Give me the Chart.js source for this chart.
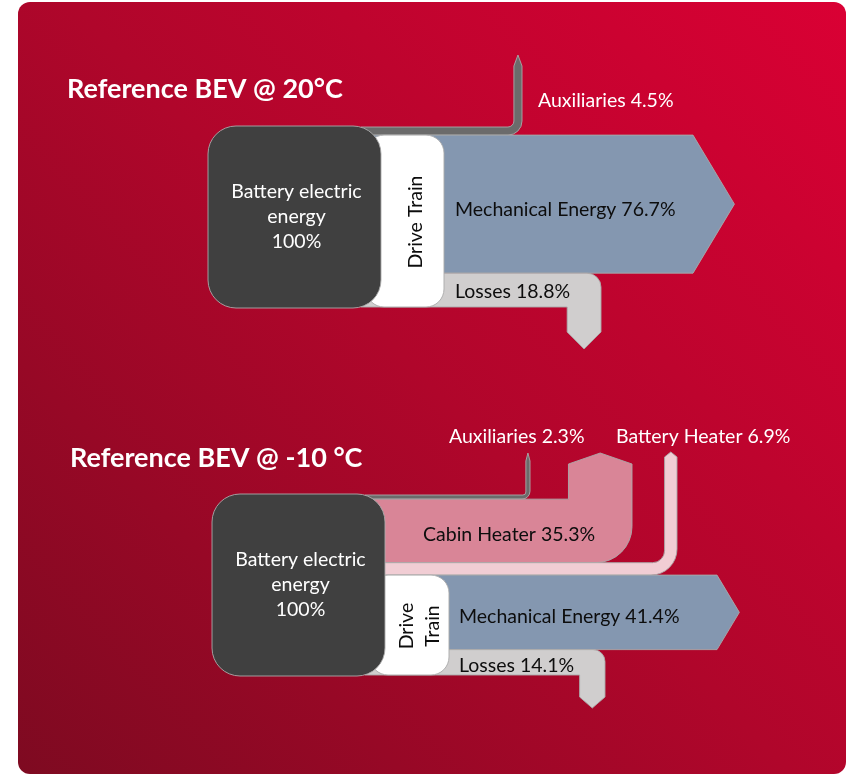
<!DOCTYPE html>
<html>
<head>
<meta charset="utf-8">
<script src="https://cdn.jsdelivr.net/npm/chart.js@4"></script>
<style>
  html, body { margin: 0; padding: 0; background: #fff; }
  canvas { display: block; }
</style>
</head>
<body>
<canvas id="grafico" width="850" height="776"></canvas>
<script>
// titulos dos dois casos
const titles = ['Reference BEV @ 20°C', 'Reference BEV @ -10 °C'];
const sourceLines = ['Battery electric', 'energy', '100%'];
const sourceValue = 100;

// caso 20°C (% da energia da bateria)
const warmFlows = ['Auxiliaries', 'Mechanical Energy', 'Losses'];
const warmValues = [4.5, 76.7, 18.8];

// caso -10°C
const coldFlows = ['Auxiliaries', 'Cabin Heater', 'Battery Heater', 'Mechanical Energy', 'Losses'];
const coldValues = [2.3, 35.3, 6.9, 41.4, 14.1];

// escala: pixels por ponto percentual
const PX_PER_PCT = 1.8;
const FONT = 'Lato, "Open Sans", sans-serif';

const flowColors = {
    'Auxiliaries': '#6b6b6b',
    'Cabin Heater': '#d98597',
    'Battery Heater': '#f1cdd4',
    'Mechanical Energy': '#8497b0',
    'Losses': '#d0cece'
};

// posicoes de cada diagrama (px)
const layouts = [
    {
        flows: warmFlows, values: warmValues, top: 127,
        boxLeft: 208, boxRight: 381, dtRight: 444,
        title: { x: 67, y: 89 }, driveText: ['Drive Train'],
        routes: {
            'Auxiliaries': { dir: 'up', xR: 522, yEnd: 66, tip: 11, rOut: 14, rIn: 6, label: { x: 538, y: 101, color: '#fff' } },
            'Mechanical Energy': { dir: 'right', xBody: 693, label: { x: 455, dy: 6 } },
            'Losses': { dir: 'down', xR: 601, yEnd: 332, tip: 17, rOut: 14, label: { x: 455, dy: 2 } }
        }
    },
    {
        flows: coldFlows, values: coldValues, top: 495,
        boxLeft: 212, boxRight: 385, dtRight: 449,
        title: { x: 70, y: 458 }, driveText: ['Drive', 'Train'],
        routes: {
            'Auxiliaries': { dir: 'up', xR: 530, yEnd: 461, tip: 8, rOut: 8, rIn: 3, label: { x: 449, y: 437, color: '#fff' } },
            'Cabin Heater': { dir: 'up', xR: 632, yEnd: 464, tip: 11, rOut: 36, rIn: 0, label: { x: 423, dy: 4 } },
            'Battery Heater': { dir: 'up', xR: 677, yEnd: 457, tip: 5, rOut: 26, rIn: 12, label: { x: 616, y: 437, color: '#fff' } },
            'Mechanical Energy': { dir: 'right', xBody: 717, label: { x: 459, dy: 4 } },
            'Losses': { dir: 'down', xR: 605, yEnd: 697, tip: 11, rOut: 12, label: { x: 459, dy: 3 } }
        }
    }
];

function upFlow(ctx, x0, y0, y1, r) {
    const w = y1 - y0, xL = r.xR - w;
    ctx.moveTo(x0, y0);
    if (r.rIn) {
        ctx.lineTo(xL - r.rIn, y0);
        ctx.arcTo(xL, y0, xL, y0 - r.rIn, r.rIn);
    } else {
        ctx.lineTo(xL, y0);
    }
    ctx.lineTo(xL, r.yEnd);
    ctx.lineTo(xL + w / 2, r.yEnd - r.tip);
    ctx.lineTo(r.xR, r.yEnd);
    ctx.lineTo(r.xR, y1 - r.rOut);
    ctx.arcTo(r.xR, y1, r.xR - r.rOut, y1, r.rOut);
    ctx.lineTo(x0, y1);
    ctx.closePath();
}

function downFlow(ctx, x0, y0, y1, r) {
    const w = y1 - y0, xL = r.xR - w;
    ctx.moveTo(x0, y0);
    ctx.lineTo(r.xR - r.rOut, y0);
    ctx.arcTo(r.xR, y0, r.xR, y0 + r.rOut, r.rOut);
    ctx.lineTo(r.xR, r.yEnd);
    ctx.lineTo(r.xR - w / 2, r.yEnd + r.tip);
    ctx.lineTo(xL, r.yEnd);
    ctx.lineTo(xL, y1);
    ctx.lineTo(x0, y1);
    ctx.closePath();
}

function rightFlow(ctx, x0, y0, y1, r) {
    const tip = (y1 - y0) * 0.3;
    ctx.moveTo(x0, y0);
    ctx.lineTo(r.xBody, y0);
    ctx.lineTo(r.xBody + tip, (y0 + y1) / 2);
    ctx.lineTo(r.xBody, y1);
    ctx.lineTo(x0, y1);
    ctx.closePath();
}

function shape(ctx, fill, draw) {
    ctx.beginPath();
    draw();
    ctx.fillStyle = fill;
    ctx.fill();
    ctx.lineWidth = 1;
    ctx.strokeStyle = 'rgba(170,170,170,0.9)';
    ctx.stroke();
}

function drawDiagram(chart, L, idx) {
    const ctx = chart.ctx;
    const y = chart.scales.y;
    const base = y.getValueForPixel(L.top);
    const x0 = L.boxRight - 20;

    // faixas acumuladas
    const bands = [];
    let acc = 0;
    L.flows.forEach((name, i) => {
        const y0 = y.getPixelForValue(base + acc);
        acc += L.values[i];
        const y1 = y.getPixelForValue(base + acc);
        bands.push({ name, value: L.values[i], y0, y1 });
    });

    bands.forEach(b => {
        const r = L.routes[b.name];
        shape(ctx, flowColors[b.name], () => {
            if (r.dir === 'up') upFlow(ctx, x0, b.y0, b.y1, r);
            else if (r.dir === 'down') downFlow(ctx, x0, b.y0, b.y1, r);
            else rightFlow(ctx, x0, b.y0, b.y1, r);
        });
    });

    // drive train
    const mech = bands.find(b => b.name === 'Mechanical Energy');
    const loss = bands.find(b => b.name === 'Losses');
    shape(ctx, '#ffffff', () => {
        ctx.roundRect(L.boxRight - 15, mech.y0, L.dtRight - L.boxRight + 15, loss.y1 - mech.y0, 18);
    });

    // bateria
    const yTop = y.getPixelForValue(base);
    const yBot = y.getPixelForValue(base + sourceValue);
    shape(ctx, '#404040', () => {
        ctx.roundRect(L.boxLeft, yTop - 1, L.boxRight - L.boxLeft, yBot - yTop + 2, 28);
    });

    // textos
    ctx.textBaseline = 'middle';
    ctx.textAlign = 'left';
    ctx.fillStyle = '#ffffff';
    ctx.font = 'bold 27px ' + FONT;
    ctx.fillText(titles[idx], L.title.x, L.title.y);

    ctx.font = '19.5px ' + FONT;
    ctx.textAlign = 'center';
    const cx = (L.boxLeft + L.boxRight) / 2 + 2;
    const cy = (yTop + yBot) / 2;
    sourceLines.forEach((t, i) => ctx.fillText(t, cx, cy + (i - 1) * 25));

    ctx.save();
    ctx.fillStyle = '#0d0d0d';
    ctx.translate((L.boxRight + L.dtRight) / 2 + 3, (mech.y0 + loss.y1) / 2 + 1);
    ctx.rotate(-Math.PI / 2);
    L.driveText.forEach((t, i) => {
        ctx.fillText(t, 0, (i - (L.driveText.length - 1) / 2) * 26);
    });
    ctx.restore();

    ctx.textAlign = 'left';
    bands.forEach(b => {
        const lab = L.routes[b.name].label;
        ctx.fillStyle = lab.color || '#0d0d0d';
        const ly = lab.y !== undefined ? lab.y : (b.y0 + b.y1) / 2 + lab.dy;
        ctx.fillText(b.name + ' ' + b.value + '%', lab.x, ly);
    });
}

// fundo vermelho com cantos arredondados
const backgroundPlugin = {
    id: 'fundo',
    beforeDraw(chart) {
        const ctx = chart.ctx;
        ctx.save();
        const g = ctx.createLinearGradient(846, 2, 18, 774);
        g.addColorStop(0, '#da0034');
        g.addColorStop(0.5, '#b0062b');
        g.addColorStop(1, '#7e0a21');
        ctx.fillStyle = g;
        ctx.beginPath();
        ctx.roundRect(18, 2, 828, 772, 12);
        ctx.fill();
        ctx.restore();
    }
};

const flowPlugin = {
    id: 'fluxos',
    afterDatasetsDraw(chart) {
        chart.ctx.save();
        layouts.forEach((L, i) => drawDiagram(chart, L, i));
        chart.ctx.restore();
    }
};

var ctx = document.querySelector('#grafico').getContext('2d');
var grafico = new Chart(ctx, {
    type: 'scatter',
    data: { datasets: [] },
    options: {
        responsive: false,
        animation: false,
        layout: { padding: 0 },
        plugins: { legend: { display: false }, tooltip: { enabled: false } },
        scales: {
            x: { type: 'linear', min: 0, max: 850, display: false },
            y: { type: 'linear', min: 0, max: 776 / PX_PER_PCT, reverse: true, display: false }
        }
    },
    plugins: [backgroundPlugin, flowPlugin]
});
</script>
</body>
</html>
